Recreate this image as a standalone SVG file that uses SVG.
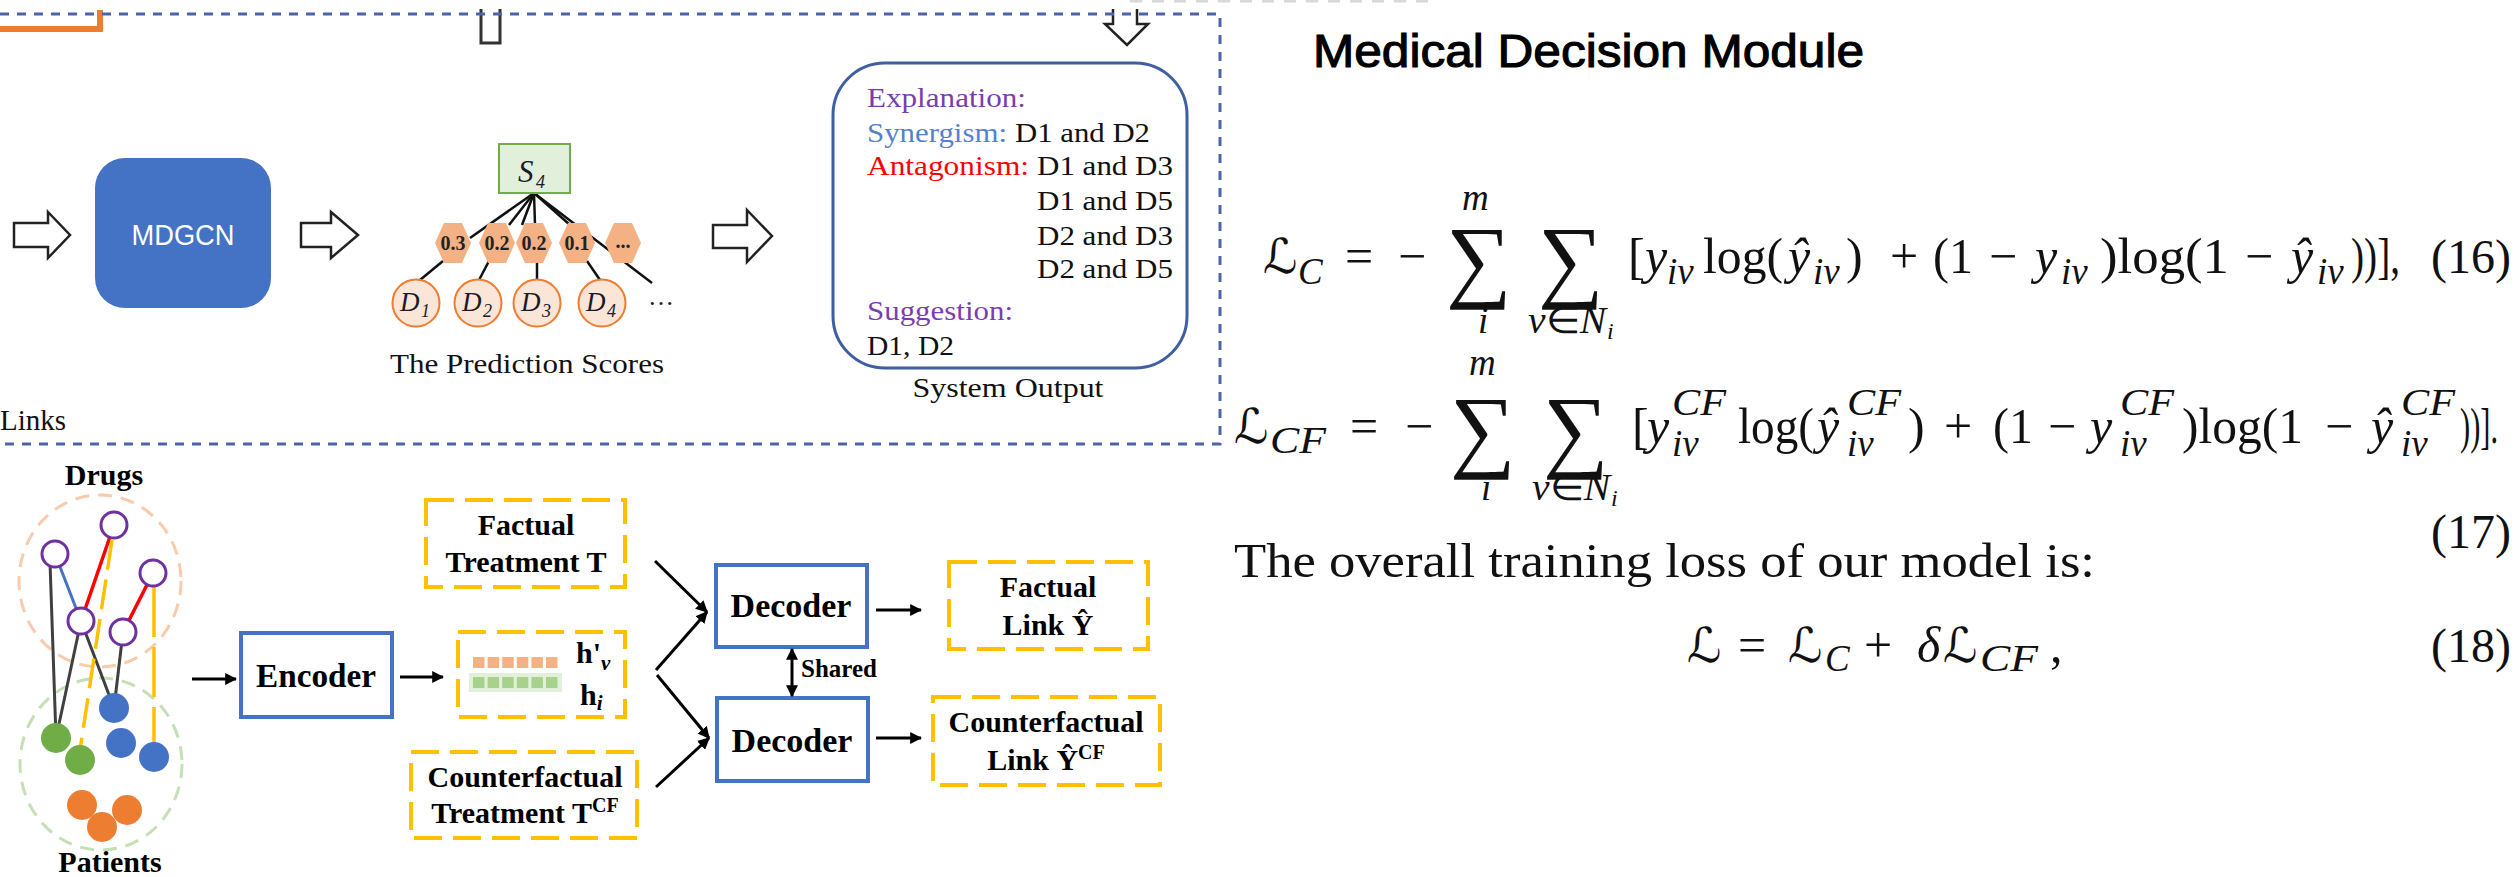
<svg xmlns="http://www.w3.org/2000/svg" width="2516" height="877" viewBox="0 0 2516 877">
<defs>
<style>
.serif{font-family:"Liberation Serif","Times New Roman",serif}
.sans{font-family:"Liberation Sans",Arial,sans-serif}
.b{font-weight:bold}
.it{font-style:italic}
.ink{fill:#111}
.block{fill:#fff;stroke:#222;stroke-width:2.5;stroke-linejoin:miter}
.ybox{fill:none;stroke:#ffc000;stroke-width:4;stroke-dasharray:28 11}
.bbox{fill:#fff;stroke:#4472c4;stroke-width:4}
.conn{stroke:#000;stroke-width:3;fill:none}
.lbl{font-family:"Liberation Serif","Times New Roman",serif;font-weight:bold;font-size:30px;fill:#000}
.out{font-family:"Liberation Serif","Times New Roman",serif;font-size:28px;fill:#111}
.m{font-family:"Liberation Serif","Times New Roman",serif;font-size:50px;fill:#111}
.num{font-family:"Liberation Serif","Times New Roman",serif;font-size:48px;fill:#111}
.mi{font-family:"Liberation Serif","Times New Roman",serif;font-size:50px;font-style:italic;fill:#111}
.cal{font-family:"DejaVu Serif","DejaVu Sans",serif;font-style:italic;font-size:48px;fill:#111}
.sb{font-family:"Liberation Serif","Times New Roman",serif;font-style:italic;font-size:37px;fill:#111}
.ss{font-family:"Liberation Serif","Times New Roman",serif;font-style:italic;font-size:24px;fill:#111}
.sum{font-family:"Liberation Serif","Times New Roman",serif;font-size:92px;fill:#111}
.drug{fill:#fff;stroke:#7030a0;stroke-width:3}
.hex{fill:#f4b183}
.hx{font-family:"Liberation Serif",serif;font-weight:bold;font-size:20px;fill:#222;text-anchor:middle}
.dc{fill:#fbe5d6;stroke:#ed7d31;stroke-width:2}
.dl{font-family:"Liberation Serif",serif;font-style:italic;font-size:27px;fill:#1a1a2a}
.dls{font-family:"Liberation Serif",serif;font-style:italic;font-size:18px;fill:#1a1a2a}
</style>
<marker id="ah" viewBox="0 0 10 10" refX="9" refY="5" markerWidth="4" markerHeight="4" orient="auto-start-reverse">
<path d="M0,0 L10,5 L0,10 z" fill="#000"/>
</marker>
</defs>
<rect x="0" y="0" width="2516" height="877" fill="#fff"/>

<!-- top frame and fragments reaching in from above -->
<g id="frame">
<line x1="1130" y1="1" x2="1428" y2="1" stroke="#d8d8d8" stroke-width="3" stroke-dasharray="12 10"/>
<path d="M0,29 H100 V10" fill="none" stroke="#ed7d31" stroke-width="6"/>
<path d="M481,9 V43 H500 V9" fill="none" stroke="#333" stroke-width="3"/>
<path d="M1113,9 V24 H1105 L1127,45 L1148,24 H1137 V9" class="block"/>
<path d="M0,14 H1220 V444 H0" fill="none" stroke="#4a66a8" stroke-width="3" stroke-dasharray="9 8"/>
</g>

<!-- prediction pipeline -->
<g id="arrow-in"><path class="block" d="M14,223 H48 V212 L70,235 L48,258 V247 H14 Z"/></g>
<g id="mdgcn">
<rect x="95" y="158" width="176" height="150" rx="30" fill="#4472c4"/>
<text x="183" y="245" class="sans" font-size="30" fill="#fff" text-anchor="middle" textLength="103" lengthAdjust="spacingAndGlyphs">MDGCN</text>
</g>
<g id="arrow-mid"><path class="block" d="M301,223 H331 V212 L358,235 L331,258 V247 H301 Z"/></g>

<g id="scores">
<g stroke="#111" stroke-width="2.5">
<line x1="534" y1="193" x2="470" y2="238"/>
<line x1="534" y1="193" x2="509" y2="225"/>
<line x1="534" y1="193" x2="522" y2="225"/>
<line x1="534" y1="193" x2="535" y2="225"/>
<line x1="534" y1="193" x2="570" y2="225"/>
<line x1="534" y1="193" x2="652" y2="283"/>
<line x1="443" y1="261" x2="420" y2="280"/>
<line x1="489" y1="261" x2="479" y2="280"/>
<line x1="537" y1="261" x2="537" y2="280"/>
<line x1="587" y1="261" x2="600" y2="280"/>
</g>
<rect x="499" y="144" width="71" height="49" fill="#e2efda" stroke="#70ad47" stroke-width="2"/>
<text x="518" y="182" class="dl" style="font-size:31px">S</text><text x="536" y="188" class="dls">4</text>
<g>
<polygon class="hex" points="435,243 444,223 462,223 471,243 462,263 444,263"/>
<polygon class="hex" points="479,243 488,223 506,223 515,243 506,263 488,263"/>
<polygon class="hex" points="516,243 525,223 543,223 552,243 543,263 525,263"/>
<polygon class="hex" points="559,243 568,223 586,223 595,243 586,263 568,263"/>
<polygon class="hex" points="605,243 614,223 632,223 641,243 632,263 614,263"/>
<text x="453" y="250" class="hx">0.3</text>
<text x="497" y="250" class="hx">0.2</text>
<text x="534" y="250" class="hx">0.2</text>
<text x="577" y="250" class="hx">0.1</text>
<text x="623" y="248" class="hx">...</text>
</g>
<g>
<circle class="dc" cx="416" cy="303" r="23.5"/>
<circle class="dc" cx="478" cy="303" r="23.5"/>
<circle class="dc" cx="537" cy="303" r="23.5"/>
<circle class="dc" cx="602" cy="303" r="23.5"/>
<text x="400" y="311" class="dl">D</text><text x="421" y="317" class="dls">1</text>
<text x="462" y="311" class="dl">D</text><text x="483" y="317" class="dls">2</text>
<text x="521" y="311" class="dl">D</text><text x="542" y="317" class="dls">3</text>
<text x="586" y="311" class="dl">D</text><text x="607" y="317" class="dls">4</text>
<text x="648" y="305" class="serif" font-size="26" fill="#1a1a2a">…</text>
</g>
<text x="527" y="373" class="serif" font-size="27" fill="#111" text-anchor="middle" textLength="274" lengthAdjust="spacingAndGlyphs">The Prediction Scores</text>
</g>

<g id="arrow-out"><path class="block" d="M713,225 H747 V210 L772,236 L747,262 V248 H713 Z"/></g>

<g id="system-output">
<rect x="833" y="63" width="354" height="305" rx="52" fill="#fff" stroke="#3f5fa0" stroke-width="3"/>
<text x="867" y="107" class="out" style="fill:#7a3db0" textLength="159" lengthAdjust="spacingAndGlyphs">Explanation:</text>
<text x="867" y="142" class="out" style="fill:#5580d0" textLength="140" lengthAdjust="spacingAndGlyphs">Synergism:</text>
<text x="1015" y="142" class="out" textLength="135" lengthAdjust="spacingAndGlyphs">D1 and D2</text>
<text x="867" y="175" class="out" style="fill:#ff0000" textLength="162" lengthAdjust="spacingAndGlyphs">Antagonism:</text>
<text x="1037" y="175" class="out" textLength="136" lengthAdjust="spacingAndGlyphs">D1 and D3</text>
<text x="1037" y="210" class="out" textLength="136" lengthAdjust="spacingAndGlyphs">D1 and D5</text>
<text x="1037" y="245" class="out" textLength="136" lengthAdjust="spacingAndGlyphs">D2 and D3</text>
<text x="1037" y="278" class="out" textLength="136" lengthAdjust="spacingAndGlyphs">D2 and D5</text>
<text x="867" y="320" class="out" style="fill:#7a3db0" textLength="146" lengthAdjust="spacingAndGlyphs">Suggestion:</text>
<text x="867" y="355" class="out" textLength="87" lengthAdjust="spacingAndGlyphs">D1, D2</text>
<text x="1008" y="397" class="out" text-anchor="middle" textLength="191" lengthAdjust="spacingAndGlyphs">System Output</text>
</g>

<g id="links-label"><text x="0" y="430" class="serif" font-size="29" fill="#111">Links</text></g>

<!-- drug / patient graph -->
<g id="graph">
<ellipse cx="100" cy="581" rx="81" ry="86" fill="none" stroke="#f8cbad" stroke-width="3" stroke-dasharray="14 9"/>
<ellipse cx="101" cy="764" rx="81" ry="86" fill="none" stroke="#c5e0b4" stroke-width="3" stroke-dasharray="14 9"/>
<text x="104" y="485" class="lbl" text-anchor="middle">Drugs</text>
<text x="110" y="872" class="lbl" text-anchor="middle">Patients</text>
<g stroke="#404040" stroke-width="3">
<line x1="50" y1="562" x2="56" y2="738"/>
<line x1="81" y1="621" x2="56" y2="738"/>
<line x1="81" y1="621" x2="114" y2="708"/>
<line x1="123" y1="632" x2="114" y2="708"/>
</g>
<line x1="55" y1="554" x2="81" y2="621" stroke="#4472c4" stroke-width="3"/>
<line x1="114" y1="525" x2="81" y2="621" stroke="#ff0000" stroke-width="3.5"/>
<line x1="153" y1="573" x2="123" y2="632" stroke="#ff0000" stroke-width="3.5"/>
<line x1="112" y1="540" x2="80" y2="750" stroke="#ffc000" stroke-width="3.5" stroke-dasharray="30 10"/>
<line x1="154" y1="587" x2="154" y2="745" stroke="#ffc000" stroke-width="3.5" stroke-dasharray="50 10"/>
<circle class="drug" cx="114" cy="525" r="13"/>
<circle class="drug" cx="55" cy="554" r="13"/>
<circle class="drug" cx="153" cy="573" r="13"/>
<circle class="drug" cx="81" cy="621" r="13"/>
<circle class="drug" cx="123" cy="632" r="13"/>
<circle cx="56" cy="738" r="15" fill="#70ad47"/>
<circle cx="80" cy="760" r="15" fill="#70ad47"/>
<circle cx="114" cy="708" r="15" fill="#4472c4"/>
<circle cx="121" cy="743" r="15" fill="#4472c4"/>
<circle cx="154" cy="757" r="15" fill="#4472c4"/>
<circle cx="82" cy="805" r="15" fill="#ed7d31"/>
<circle cx="127" cy="810" r="15" fill="#ed7d31"/>
<circle cx="102" cy="827" r="15" fill="#ed7d31"/>
</g>

<g id="encoder">
<rect class="bbox" x="241" y="633" width="151" height="84"/>
<text x="316" y="687" class="lbl" style="font-size:34px" text-anchor="middle" textLength="120" lengthAdjust="spacingAndGlyphs">Encoder</text>
</g>

<g id="embeddings">
<rect class="ybox" x="458" y="632" width="167" height="85"/>
<g fill="#f4b183">
<rect x="473" y="657" width="11.5" height="11"/><rect x="487.6" y="657" width="11.5" height="11"/><rect x="502.2" y="657" width="11.5" height="11"/>
<rect x="516.8" y="657" width="11.5" height="11"/><rect x="531.4" y="657" width="11.5" height="11"/><rect x="546" y="657" width="11.5" height="11"/>
</g>
<rect x="469" y="673" width="93" height="19" fill="#e2f0d9"/>
<g fill="#a9d18e">
<rect x="473" y="677" width="11.5" height="11"/><rect x="487.6" y="677" width="11.5" height="11"/><rect x="502.2" y="677" width="11.5" height="11"/>
<rect x="516.8" y="677" width="11.5" height="11"/><rect x="531.4" y="677" width="11.5" height="11"/><rect x="546" y="677" width="11.5" height="11"/>
</g>
<text x="576" y="663" class="lbl">h'<tspan class="it" font-size="21" dy="7">v</tspan></text>
<text x="580" y="705" class="lbl">h<tspan class="it" font-size="21" dy="5">i</tspan></text>
</g>

<g id="factual-treatment">
<rect class="ybox" x="426" y="500" width="199" height="87"/>
<text x="526" y="535" class="lbl" text-anchor="middle">Factual</text>
<text x="526" y="572" class="lbl" text-anchor="middle">Treatment T</text>
</g>

<g id="counterfactual-treatment">
<rect class="ybox" x="411" y="752" width="226" height="86"/>
<text x="525" y="787" class="lbl" text-anchor="middle">Counterfactual</text>
<text x="525" y="823" class="lbl" text-anchor="middle">Treatment T<tspan font-size="20" dy="-11">CF</tspan></text>
</g>

<g id="decoder-factual">
<rect class="bbox" x="716" y="565" width="151" height="82"/>
<text x="791" y="617" class="lbl" style="font-size:34px" text-anchor="middle">Decoder</text>
</g>
<g id="decoder-counterfactual">
<rect class="bbox" x="717" y="698" width="151" height="83"/>
<text x="792" y="752" class="lbl" style="font-size:34px" text-anchor="middle">Decoder</text>
</g>

<g id="factual-link">
<rect class="ybox" x="949" y="562" width="199" height="87"/>
<text x="1048" y="597" class="lbl" text-anchor="middle">Factual</text>
<text x="1048" y="635" class="lbl" text-anchor="middle">Link Ŷ</text>
</g>
<g id="counterfactual-link">
<rect class="ybox" x="933" y="697" width="227" height="88"/>
<text x="1046" y="732" class="lbl" text-anchor="middle">Counterfactual</text>
<text x="1046" y="770" class="lbl" text-anchor="middle">Link Ŷ<tspan font-size="20" dy="-11">CF</tspan></text>
</g>

<g id="shared-label"><text x="801" y="677" class="lbl" style="font-size:25px">Shared</text></g>

<g id="connectors">
<line class="conn" x1="192" y1="679" x2="236" y2="679" marker-end="url(#ah)"/>
<line class="conn" x1="400" y1="677" x2="443" y2="677" marker-end="url(#ah)"/>
<line class="conn" x1="655" y1="561" x2="707" y2="612" marker-end="url(#ah)"/>
<line class="conn" x1="656" y1="670" x2="707" y2="612" marker-end="url(#ah)"/>
<line class="conn" x1="657" y1="675" x2="709" y2="738" marker-end="url(#ah)"/>
<line class="conn" x1="656" y1="787" x2="709" y2="738" marker-end="url(#ah)"/>
<line class="conn" x1="792" y1="649" x2="792" y2="696" marker-start="url(#ah)" marker-end="url(#ah)"/>
<line class="conn" x1="876" y1="610" x2="921" y2="610" marker-end="url(#ah)"/>
<line class="conn" x1="876" y1="738" x2="921" y2="738" marker-end="url(#ah)"/>
</g>

<!-- training objective -->
<g id="module-title">
<text x="1313" y="67" class="sans" font-size="46" fill="#000" stroke="#000" stroke-width="1.1" textLength="551" lengthAdjust="spacingAndGlyphs">Medical Decision Module</text>
</g>

<g id="eq16">
<text x="1263" y="273" class="cal">ℒ</text><text x="1298" y="284" class="sb">C</text>
<text x="1345" y="273" class="m">=</text><text x="1398" y="273" class="m">−</text>
<text x="1446" y="290" class="sum">∑</text><text x="1538" y="290" class="sum">∑</text>
<text x="1462" y="210" class="sb">m</text>
<text x="1478" y="333" class="sb">i</text><text x="1528" y="333" class="sb" textLength="78" lengthAdjust="spacingAndGlyphs">v<tspan font-style="normal">∈</tspan>N</text><text x="1607" y="339" class="ss">i</text>
<text x="1628" y="273" class="m">[</text>
<text x="1645" y="273" class="mi">y</text><text x="1667" y="284" class="sb">iv</text>
<text x="1703" y="273" class="m" textLength="80" lengthAdjust="spacingAndGlyphs">log(</text>
<text x="1788" y="273" class="mi">ŷ</text><text x="1813" y="284" class="sb">iv</text>
<text x="1846" y="273" class="m">)</text>
<text x="1890" y="273" class="m">+</text>
<text x="1933" y="273" class="m" textLength="40" lengthAdjust="spacingAndGlyphs">(1</text><text x="1989" y="273" class="m">−</text>
<text x="2035" y="273" class="mi">y</text><text x="2061" y="284" class="sb">iv</text>
<text x="2100" y="273" class="m" textLength="129" lengthAdjust="spacingAndGlyphs">)log(1</text><text x="2245" y="273" class="m">−</text>
<text x="2291" y="273" class="mi">ŷ</text><text x="2317" y="284" class="sb">iv</text>
<text x="2351" y="273" class="m" textLength="49" lengthAdjust="spacingAndGlyphs">))],</text>
<text x="2431" y="273" class="num" textLength="80" lengthAdjust="spacingAndGlyphs">(16)</text>
</g>

<g id="eq17">
<text x="1234" y="443" class="cal">ℒ</text><text x="1270" y="453" class="sb" textLength="56" lengthAdjust="spacingAndGlyphs">CF</text>
<text x="1350" y="443" class="m">=</text><text x="1405" y="443" class="m">−</text>
<text x="1450" y="460" class="sum">∑</text><text x="1543" y="460" class="sum">∑</text>
<text x="1469" y="375" class="sb">m</text>
<text x="1481" y="500" class="sb">i</text><text x="1532" y="500" class="sb" textLength="78" lengthAdjust="spacingAndGlyphs">v<tspan font-style="normal">∈</tspan>N</text><text x="1611" y="506" class="ss">i</text>
<text x="1632" y="443" class="m">[</text>
<text x="1647" y="443" class="mi">y</text><text x="1672" y="415" class="sb" textLength="54" lengthAdjust="spacingAndGlyphs">CF</text><text x="1672" y="456" class="sb">iv</text>
<text x="1738" y="443" class="m" textLength="76" lengthAdjust="spacingAndGlyphs">log(</text>
<text x="1817" y="443" class="mi">ŷ</text><text x="1847" y="415" class="sb" textLength="54" lengthAdjust="spacingAndGlyphs">CF</text><text x="1847" y="456" class="sb">iv</text>
<text x="1908" y="443" class="m">)</text>
<text x="1944" y="443" class="m">+</text>
<text x="1993" y="443" class="m" textLength="40" lengthAdjust="spacingAndGlyphs">(1</text><text x="2048" y="443" class="m">−</text>
<text x="2090" y="443" class="mi">y</text><text x="2120" y="415" class="sb" textLength="54" lengthAdjust="spacingAndGlyphs">CF</text><text x="2120" y="456" class="sb">iv</text>
<text x="2182" y="443" class="m" textLength="121" lengthAdjust="spacingAndGlyphs">)log(1</text><text x="2325" y="443" class="m">−</text>
<text x="2371" y="443" class="mi">ŷ</text><text x="2401" y="415" class="sb" textLength="54" lengthAdjust="spacingAndGlyphs">CF</text><text x="2401" y="456" class="sb">iv</text>
<text x="2460" y="443" class="m" textLength="38" lengthAdjust="spacingAndGlyphs">))].</text>
<text x="2431" y="548" class="num" textLength="80" lengthAdjust="spacingAndGlyphs">(17)</text>
</g>

<g id="overall-text">
<text x="1234" y="577" class="num" textLength="861" lengthAdjust="spacingAndGlyphs">The overall training loss of our model is:</text>
</g>

<g id="eq18">
<text x="1687" y="662" class="cal">ℒ</text>
<text x="1738" y="662" class="m">=</text>
<text x="1788" y="662" class="cal">ℒ</text><text x="1825" y="671" class="sb">C</text>
<text x="1864" y="662" class="m">+</text>
<text x="1917" y="662" class="mi">δ</text>
<text x="1943" y="662" class="cal">ℒ</text><text x="1980" y="671" class="sb" textLength="58" lengthAdjust="spacingAndGlyphs">CF</text>
<text x="2050" y="662" class="m">,</text>
<text x="2431" y="662" class="num" textLength="80" lengthAdjust="spacingAndGlyphs">(18)</text>
</g>
</svg>
